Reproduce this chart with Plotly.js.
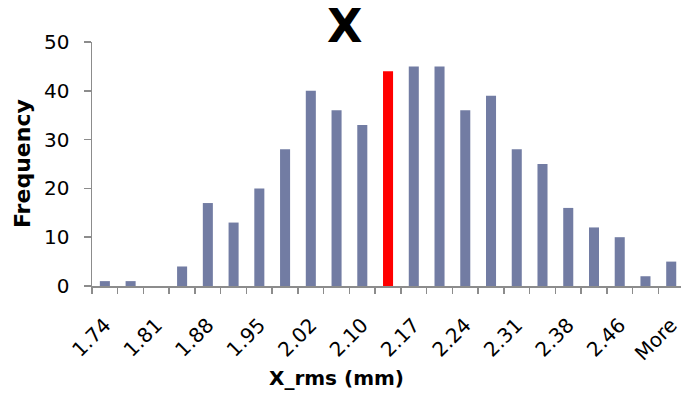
<!DOCTYPE html>
<html><head><meta charset="utf-8">
<script src="https://cdn.plot.ly/plotly-3.0.1.min.js"></script>
<style>html,body{margin:0;padding:0;background:#fff}#chart{width:681px;height:393px}</style>
</head><body><div id="chart"></div>
<script>
// Bin labels (only every other bin is labelled in the original)
const binLabels = ['1.74','','1.81','','1.88','','1.95','','2.02','','2.10','','2.17','','2.24','','2.31','','2.38','','2.46','','More'];
const frequency = [1,1,0,4,17,13,20,28,40,36,33,44,45,45,36,39,28,25,16,12,10,2,5];
const highlightIndex = 11;
const chartTitle = 'X';
const xTitle = 'X_rms (mm)';
const yTitle = 'Frequency';

const xIdx = binLabels.map((_, i) => i);
const colors = xIdx.map(i => i === highlightIndex ? '#ff0000' : '#727ca3');
const tickIdx = xIdx.filter(i => binLabels[i] !== '');
const tickTxt = tickIdx.map(i => binLabels[i]);

const bold = 'DejaVu Sans';
const trace = {
  type: 'bar', x: xIdx, y: frequency, width: 0.39,
  marker: {color: colors, line: {width: 0}},
  hoverinfo: 'x+y'
};
const layout = {
  width: 681, height: 393,
  margin: {l: 92, r: 0, t: 42, b: 107},
  paper_bgcolor: '#fff', plot_bgcolor: '#fff',
  showlegend: false,
  font: {family: 'DejaVu Sans', color: '#000'},
  xaxis: {
    range: [-0.5, 22.38], showgrid: false, zeroline: false,
    showline: true, linecolor: '#8c8c8c', linewidth: 1.5,
    tickmode: 'array', tickvals: tickIdx, ticktext: tickTxt,
    ticks: '', tickangle: -45, tickfont: {size: 20, family: 'DejaVu Sans', color: '#000'},
    ticklabelstandoff: 18, ticklabeloverflow: 'allow',
    minor: {ticks: 'outside', tick0: -0.5, dtick: 1, ticklen: 6, tickcolor: '#8c8c8c', tickwidth: 1.5, showgrid: false}
  },
  yaxis: {
    range: [0, 50], dtick: 10, showgrid: false, zeroline: false,
    showline: true, linecolor: '#8c8c8c', linewidth: 1.5,
    ticks: 'outside', ticklen: 7, tickcolor: '#8c8c8c', tickwidth: 1.5,
    tickfont: {size: 20, family: 'DejaVu Sans', color: '#000'},
    ticklabelstandoff: 10
  },
  annotations: [
    {text: '<b>' + chartTitle + '</b>', xref: 'paper', yref: 'paper', x: (344-92)/589, y: 1, yshift: 16,
     xanchor: 'center', yanchor: 'middle', showarrow: false, font: {family: bold, size: 46, color: '#000'}},
    {text: '<b>' + xTitle + '</b>', xref: 'paper', yref: 'paper', x: (336-92)/589, y: 0, yshift: -92,
     xanchor: 'center', yanchor: 'middle', showarrow: false, font: {family: bold, size: 20, color: '#000'}},
    {text: '<b>' + yTitle + '</b>', xref: 'paper', yref: 'paper', x: 0, xshift: -70, y: (286-164)/244,
     xanchor: 'center', yanchor: 'middle', textangle: -90, showarrow: false, font: {family: bold, size: 22, color: '#000'}}
  ]
};
Plotly.newPlot('chart', [trace], layout, {displayModeBar: false, staticPlot: true});
</script></body></html>
